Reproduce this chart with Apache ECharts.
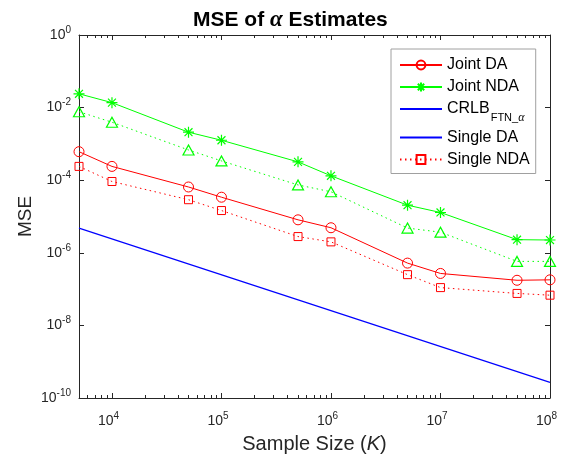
<!DOCTYPE html>
<html>
<head>
<meta charset="utf-8">
<script src="https://cdn.jsdelivr.net/npm/echarts@6/dist/echarts.min.js"></script>
<style>html,body{margin:0;padding:0;background:#fff}#c{width:568px;height:459px}</style>
</head>
<body>
<div id="c"></div>
<script>
// ---- data ----
const sampleSizes = [5e3, 1e4, 5e4, 1e5, 5e5, 1e6, 5e6, 1e7, 5e7, 1e8];
const jointDA   = [6.1e-4, 2.4e-4, 6.5e-5, 3.4e-5, 8.1e-6, 4.9e-6, 5.2e-7, 2.7e-7, 1.75e-7, 1.8e-7];
const jointNDA  = [2.4e-2, 1.37e-2, 2.1e-3, 1.26e-3, 3.2e-4, 1.32e-4, 2.05e-5, 1.29e-5, 2.3e-6, 2.25e-6];
const singleDA  = [7.7e-3, 3.95e-3, 6.8e-4, 3.4e-4, 7.4e-5, 4.8e-5, 4.8e-6, 3.7e-6, 5.8e-7, 5.8e-7];
const singleNDA = [2.4e-4, 9.2e-5, 2.9e-5, 1.46e-5, 2.8e-6, 2.0e-6, 2.5e-7, 1.1e-7, 7.6e-8, 6.8e-8];
const crlbSizes = [5e3, 1e8];
const crlbVals  = [4.8e-6, 2.7e-10];
const minorMultipliers = [2, 3, 4, 5, 6, 7, 8, 9];

const AX = '#262626';
const FONT = 'Liberation Sans';
const xMin = 5e3, xMax = 1e8;
const lxMin = Math.log10(xMin), lxMax = Math.log10(xMax);

const G = { left: 79, right: 18, top: 35, bottom: 61 };
const W = 568 - G.left - G.right;
const pxPerDecade = W / (lxMax - lxMin);

const pairs = (xs, ys) => xs.map((x, i) => [x, ys[i]]);

const supRich = {
  b: { fontFamily: FONT, fontSize: 14, color: AX },
  s: { fontFamily: FONT, fontSize: 10, color: AX, padding: [0, 0, 10, 0] }
};
function expLabel(v) {
  const e = Math.round(Math.log10(v));
  if (Math.abs(Math.log10(v) - e) > 1e-6) return '';
  return '{b|10}{s|' + e + '}';
}

const asterisk = 'path://M0,-5L0,5M-5,0L5,0M-3.6,-3.6L3.6,3.6M-3.6,3.6L3.6,-3.6';

const grids = [Object.assign({}, G)];
const xAxes = [];
const yAxes = [];
const helperSeries = [];

xAxes.push({
  type: 'log', min: xMin, max: xMax, position: 'bottom', gridIndex: 0,
  name: '{a|Sample Size (}{i|K}{a|)}', nameLocation: 'middle', nameGap: 36,
  nameTextStyle: {
    rich: {
      a: { fontFamily: FONT, fontSize: 20, color: AX },
      i: { fontFamily: FONT, fontSize: 20, fontStyle: 'italic', color: AX }
    }
  },
  axisLine: { show: true, lineStyle: { color: AX, width: 1 } },
  axisTick: { show: true, inside: true, length: 5, lineStyle: { color: AX } },
  axisLabel: { margin: 13, formatter: expLabel, rich: supRich, showMinLabel: false, padding: [0, 7, 0, 0] },
  splitLine: { show: false }
});
xAxes.push({
  type: 'log', min: xMin, max: xMax, position: 'top', gridIndex: 0,
  axisLine: { show: true, lineStyle: { color: AX, width: 1 } },
  axisTick: { show: true, inside: true, length: 5, lineStyle: { color: AX } },
  axisLabel: { show: false }, splitLine: { show: false }
});
yAxes.push({
  type: 'log', min: 1e-10, max: 1, position: 'left', interval: 2, gridIndex: 0,
  name: 'MSE', nameLocation: 'middle', nameGap: 44, nameMoveOverlap: false,
  nameTextStyle: { fontFamily: FONT, fontSize: 19, color: AX },
  axisLine: { show: true, lineStyle: { color: AX, width: 1 } },
  axisTick: { show: true, inside: true, length: 5, lineStyle: { color: AX } },
  axisLabel: { margin: 8, formatter: expLabel, rich: supRich },
  splitLine: { show: false }
});
yAxes.push({
  type: 'log', min: 1e-10, max: 1, position: 'right', interval: 2, gridIndex: 0,
  axisLine: { show: true, lineStyle: { color: AX, width: 1 } },
  axisTick: { show: true, inside: true, length: 5, lineStyle: { color: AX } },
  axisLabel: { show: false }, splitLine: { show: false }
});

// helper grids: one per multiplier k, holding ticks at k*10^n (log minor ticks)
minorMultipliers.forEach(function (k) {
  const lk = Math.log10(k);
  const n0 = Math.ceil(lxMin - lk + 1e-9);
  const n1 = Math.floor(lxMax - lk - 1e-9);
  if (n1 <= n0) return;
  const gi = grids.length;
  const left = G.left + (n0 + lk - lxMin) * pxPerDecade;
  grids.push({ left: left, width: (n1 - n0) * pxPerDecade, top: G.top, bottom: G.bottom });
  const yi = yAxes.length;
  yAxes.push({ type: 'log', min: 1e-10, max: 1, gridIndex: gi, position: 'left', show: true,
    axisLine: { show: false }, axisTick: { show: false }, axisLabel: { show: false }, splitLine: { show: false } });
  ['bottom', 'top'].forEach(function (pos) {
    const xi = xAxes.length;
    xAxes.push({
      type: 'value', min: n0, max: n1, interval: 1, position: pos, gridIndex: gi, show: true,
      axisLine: { show: true, onZero: false, lineStyle: { color: AX, width: 1 } },
      axisTick: { show: true, inside: true, length: 3, lineStyle: { color: AX, width: 1 } },
      axisLabel: { show: false },
      splitLine: { show: false }
    });
    helperSeries.push({
      type: 'line', xAxisIndex: xi, yAxisIndex: yi, data: [[n0, 1e-5]],
      symbol: 'none', silent: true, lineStyle: { opacity: 0 }
    });
  });
});

const chart = echarts.init(document.getElementById('c'), null, { renderer: 'canvas' });
const option = {
  backgroundColor: '#fff',
  animation: false,
  title: {
    text: '{a|MSE of }{g|α}{a| Estimates}',
    left: 188, top: 4,
    textStyle: {
      rich: {
        a: { fontFamily: FONT, fontSize: 21, fontWeight: 'bold', color: '#000' },
        g: { fontFamily: 'Liberation Serif', fontSize: 23, fontStyle: 'italic', color: '#000' }
      }
    }
  },
  legend: {
    orient: 'vertical',
    left: 391, top: 49,
    padding: [8, 6, 6, 8],
    itemWidth: 42, itemHeight: 11, itemGap: 6,
    backgroundColor: '#fff',
    borderColor: '#a0a0a0', borderWidth: 1,
    textStyle: {
      fontFamily: FONT, fontSize: 16, color: '#000',
      rich: {
        m: { fontFamily: FONT, fontSize: 16, color: '#000' },
        s: { fontFamily: FONT, fontSize: 11, color: '#000', padding: [17, 0, 0, 1] },
        g: { fontFamily: 'Liberation Serif', fontSize: 12, fontStyle: 'italic', color: '#000', padding: [17, 0, 0, 0] }
      }
    },
    formatter: function (name) {
      if (name === 'CRLB') return '{m|CRLB}{s|FTN_}{g|α}';
      return name;
    },
    data: [
      'Joint DA', 'Joint NDA',
      { name: 'CRLB', itemStyle: { opacity: 0 } },
      { name: 'Single DA', itemStyle: { opacity: 0 } },
      'Single NDA'
    ]
  },
  grid: grids,
  xAxis: xAxes,
  yAxis: yAxes,
  series: [
    {
      name: 'Joint DA', type: 'line', xAxisIndex: 0, yAxisIndex: 0,
      data: pairs(sampleSizes, jointDA),
      symbol: 'circle', symbolSize: 10,
      itemStyle: { color: 'rgba(255,0,0,0)', borderColor: '#ff0000', borderWidth: 1 },
      lineStyle: { color: '#ff0000', width: 1 }
    },
    {
      name: 'Joint NDA', type: 'line', xAxisIndex: 0, yAxisIndex: 0,
      data: pairs(sampleSizes, jointNDA),
      symbol: asterisk, symbolSize: 11,
      itemStyle: { color: 'rgba(0,255,0,0)', borderColor: '#00ff00', borderWidth: 1.2 },
      lineStyle: { color: '#00ff00', width: 1 }
    },
    {
      name: 'CRLB', type: 'line', xAxisIndex: 0, yAxisIndex: 0,
      data: pairs(crlbSizes, crlbVals),
      symbol: 'none',
      itemStyle: { color: '#0000ff' },
      lineStyle: { color: '#0000ff', width: 1.2 }
    },
    {
      // legend entry as shown in the reference (blue line)
      name: 'Single DA', type: 'line', xAxisIndex: 0, yAxisIndex: 0,
      data: [], symbol: 'none',
      itemStyle: { color: '#0000ff' },
      lineStyle: { color: '#0000ff', width: 1.2 }
    },
    {
      name: 'Single DA (markers)', type: 'line', xAxisIndex: 0, yAxisIndex: 0,
      data: pairs(sampleSizes, singleDA),
      symbol: 'triangle', symbolSize: [11, 10],
      itemStyle: { color: 'rgba(0,255,0,0)', borderColor: '#00ff00', borderWidth: 1.2 },
      lineStyle: { color: '#00ff00', width: 1, type: [1.5, 3.5] }
    },
    {
      name: 'Single NDA', type: 'line', xAxisIndex: 0, yAxisIndex: 0,
      data: pairs(sampleSizes, singleNDA),
      symbol: 'rect', symbolSize: 8,
      itemStyle: { color: 'rgba(255,0,0,0)', borderColor: '#ff0000', borderWidth: 1 },
      lineStyle: { color: '#ff0000', width: 1, type: [1.5, 3.5] }
    }
  ].concat(helperSeries)
};
chart.setOption(option);
</script>
</body>
</html>
